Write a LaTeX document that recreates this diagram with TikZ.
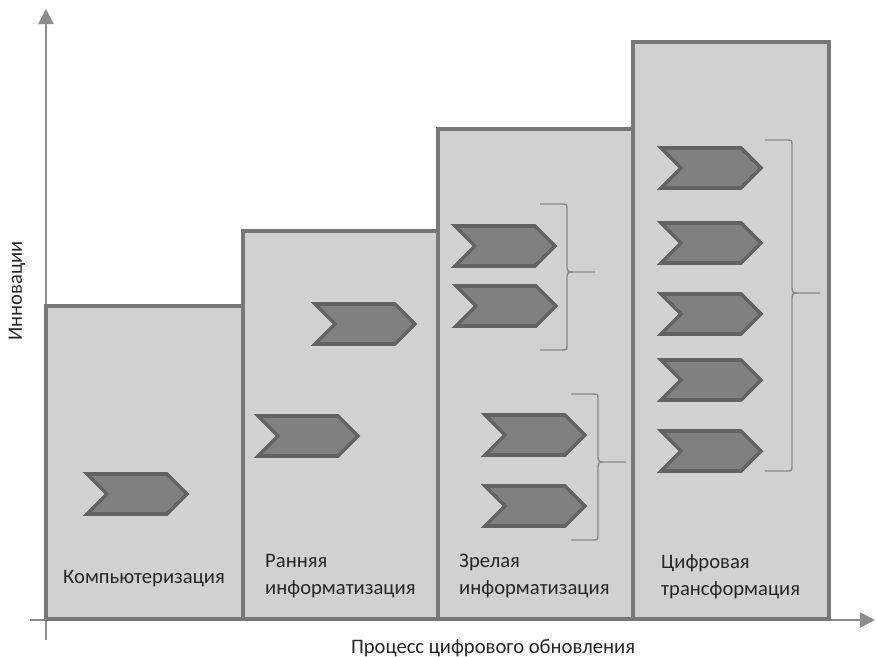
\documentclass[tikz,border=0pt]{standalone}
\usepackage{fontspec}
\setmainfont{Carlito}
\usepackage{tikz}
\usetikzlibrary{
    arrows.meta,
    shapes.symbols
}

\definecolor{barfill}{HTML}{D0D1D3}
\definecolor{barline}{HTML}{777777}
\definecolor{chevfill}{HTML}{808080}
\definecolor{chevline}{HTML}{626262}
\definecolor{axisgray}{HTML}{8C8C90}
\definecolor{bracegray}{HTML}{8A8A8A}
\definecolor{txt}{HTML}{262626}

\tikzset{
    bar/.style={fill=barfill, draw=barline, line width=3.2pt},
    chev/.style={signal, signal to=east, signal from=west, signal pointer angle=90, fill=chevfill, draw=chevline, line width=3pt, minimum width=3cm, minimum height=1.2cm, inner sep=0pt},
    axis/.style={draw=axisgray, line width=2.3pt, -{Triangle[length=13pt,width=13pt]}},
    brc/.style={draw=bracegray, line width=1.2pt},
    lbl/.style={anchor=base west, align=left, text=txt, inner sep=0pt, font=\fontsize{17.6}{23}\selectfont}
}

% right curly brace: spine x, top, bottom, tip y
\newcommand{\grpbrace}[4]{
    \draw[brc] (#1-27,#2) -- (#1-6,#2) .. controls (#1,#2) .. (#1,#2+6) -- (#1,#4-8) .. controls (#1,#4) .. (#1+8,#4) -- (#1+28,#4)
               (#1+8,#4) .. controls (#1,#4) .. (#1,#4+8) -- (#1,#3-6) .. controls (#1,#3) .. (#1-6,#3) -- (#1-27,#3);
}

\begin{document}
\begin{tikzpicture}[x=0.03cm, y=-0.03cm]
                \useasboundingbox (0,0) rectangle (876,657);

                % axes
                \coordinate (ybot) at (46,640);
                \coordinate (ytop) at (46,9);
                \coordinate (xleft) at (30,620);
                \coordinate (xright) at (875,620);
                \draw[axis] (ybot)--(ytop);
                \draw[axis] (xleft)--(xright);

                % steps
                \draw[bar] (46,619) rectangle (243,306);
                \draw[bar] (243,619) rectangle (438,231);
                \draw[bar] (438,619) rectangle (633,129);
                \draw[bar] (633,619) rectangle (829,42);

                \node[chev] (comp 1) at (137,494) {};

                \node[chev] (early 1) at (308,436) {};
                \node[chev] (early 2) at (365,324) {};

                \node[chev] (mature 1) at (505,246) {};
                \node[chev] (mature 2) at (506,306) {};
                \node[chev] (mature 3) at (535,435) {};
                \node[chev] (mature 4) at (535,506) {};

                \node[chev] (digital 1) at (711,168) {};
                \node[chev] (digital 2) at (711,243) {};
                \node[chev] (digital 3) at (711,314) {};
                \node[chev] (digital 4) at (711,380) {};
                \node[chev] (digital 5) at (711,451) {};

                \grpbrace{567}{204}{350}{272}
                \grpbrace{598}{394}{540}{462}
                \grpbrace{792}{140}{471}{293}

                \node[lbl] (comp) at (63,583) {Компьютеризация};
                \node[lbl] (early) at (265,594) {Ранняя\\информатизация};
                \node[lbl] (mature) at (459,594) {Зрелая\\информатизация};
                \node[lbl] (digital) at (661,595) {Цифровая\\трансформация};

                \node[text=txt, anchor=base, inner sep=0pt, font=\fontsize{17.6}{23}\selectfont] (xlabel) at (493,653) {Процесс цифрового обновления};
                \node[text=txt, rotate=90, inner sep=0pt, font=\fontsize{17.6}{23}\selectfont] (ylabel) at (17,291) {Инновации};
            \end{tikzpicture}
\end{document}
